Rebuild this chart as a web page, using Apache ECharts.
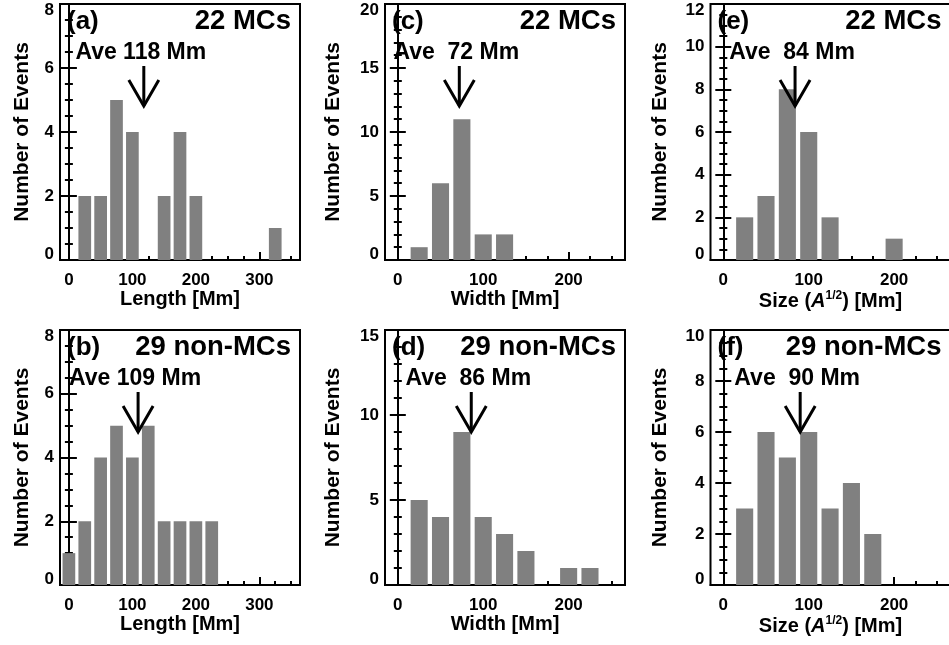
<!DOCTYPE html>
<html><head><meta charset="utf-8">
<script src="https://cdn.jsdelivr.net/npm/echarts@6/dist/echarts.min.js"></script>
<style>html,body{margin:0;padding:0;background:#fff}#c{width:949px;height:645px}</style>
</head><body><div id="c"></div>
<script>
// ---- data: histogram bin centres [Mm] and event counts ----
const lengthMC_bins   = [25, 50, 75, 100, 150, 175, 200, 325];
const lengthMC_counts = [2, 2, 5, 4, 2, 4, 2, 1];
const lengthNon_bins   = [0, 25, 50, 75, 100, 125, 150, 175, 200, 225];
const lengthNon_counts = [1, 2, 4, 5, 4, 5, 2, 2, 2, 2];
const widthMC_bins   = [25, 50, 75, 100, 125];
const widthMC_counts = [1, 6, 11, 2, 2];
const widthNon_bins   = [25, 50, 75, 100, 125, 150, 200, 225];
const widthNon_counts = [5, 4, 9, 4, 3, 2, 1, 1];
const sizeMC_bins   = [25, 50, 75, 100, 125, 200];
const sizeMC_counts = [2, 3, 8, 6, 2, 1];
const sizeNon_bins   = [25, 50, 75, 100, 125, 150, 175];
const sizeNon_counts = [3, 6, 5, 6, 3, 4, 2];

const panelLetters = ['(a)', '(b)', '(c)', '(d)', '(e)', '(f)'];
const sampleLabels = ['22 MCs', '29 non-MCs', '22 MCs', '29 non-MCs', '22 MCs', '29 non-MCs'];
const averages     = [118, 109, 72, 86, 84, 90];
const yMaxes       = [8, 8, 20, 15, 12, 10];
const ySteps       = [2, 2, 5, 5, 2, 2];

// tick labels
const xMajorLength = [0, 100, 200, 300];
const xMinorLength = [25, 50, 75, 125, 150, 175, 225, 250, 275, 325, 350];
const xMajorWS = [0, 100, 200];
const xMinorWS = [25, 50, 75, 125, 150, 175, 225, 250];
const xTitles = ['Length [Mm]', 'Width [Mm]', '{n|Size (}{i|A}{s|1/2}{n|) [Mm]}'];
const yTitle = 'Number of Events';

const binsList   = [lengthMC_bins, lengthNon_bins, widthMC_bins, widthNon_bins, sizeMC_bins, sizeNon_bins];
const countsList = [lengthMC_counts, lengthNon_counts, widthMC_counts, widthNon_counts, sizeMC_counts, sizeNon_counts];

// ---- layout ----
const FONT = '"Liberation Sans", Arial, Helvetica, sans-serif';
const colLeft = [60, 385, 710.5];
const colWidth = 240;
const rowTop = [4, 330];
const rowHeight = [256, 255];
const xRange = [[-14, 364], [-15, 266], [-15, 266]];
const yNameGap = [27, 41, 40];

const black = '#000';
const lineSt = { color: black, width: 2 };

const grids = [], xAxes = [], yAxes = [], series = [];

for (let i = 0; i < 6; i++) {
  const col = Math.floor(i / 2), row = i % 2;
  grids.push({
    left: colLeft[col], top: rowTop[row], width: colWidth, height: rowHeight[row],
    show: true, borderColor: black, borderWidth: 2, backgroundColor: 'transparent',
    containLabel: false, outerBoundsMode: 'none'
  });
  const major = col === 0 ? xMajorLength : xMajorWS;
  const minor = col === 0 ? xMinorLength : xMinorWS;
  const ymax = yMaxes[i], ystep = ySteps[i];
  const nameStyle = {
    fontSize: 20, fontWeight: 'bold', fontFamily: FONT, color: black,
    rich: {
      n: { fontSize: 20, fontWeight: 'bold', fontFamily: FONT, color: black, lineHeight: 24 },
      i: { fontSize: 20, fontWeight: 'bold', fontStyle: 'italic', fontFamily: FONT, color: black, lineHeight: 24 },
      s: { fontSize: 12, fontWeight: 'bold', fontFamily: FONT, color: black, verticalAlign: 'top', lineHeight: 12 }
    }
  };
  // main bottom x axis (major ticks + labels)
  xAxes.push({
    gridIndex: i, type: 'value', min: xRange[col][0], max: xRange[col][1], position: 'bottom',
    axisLine: { show: true, onZero: false, lineStyle: lineSt },
    axisTick: { show: true, inside: true, length: 8, lineStyle: lineSt, customValues: major },
    axisLabel: { show: true, customValues: major, margin: 12, color: black, fontSize: 17, fontWeight: 'bold', fontFamily: FONT },
    splitLine: { show: false },
    name: xTitles[col], nameLocation: 'middle', nameGap: 29, nameTextStyle: nameStyle
  });
  // helper x axis placed on y=0 for the minor ticks
  xAxes.push({
    gridIndex: i, type: 'value', min: xRange[col][0], max: xRange[col][1], position: 'top',
    axisLine: { show: false, onZero: true },
    axisTick: { show: true, inside: false, length: 4, lineStyle: lineSt, customValues: minor },
    axisLabel: { show: false }, splitLine: { show: false }
  });
  const lblStyle = { fontSize: 17, fontWeight: 'bold', fontFamily: FONT, color: black };
  const yCommon = {
    gridIndex: i, type: 'value', min: 0, max: ymax, interval: ystep,
    axisLine: { show: true, lineStyle: lineSt },
    axisTick: { show: true, inside: true, length: 8, lineStyle: lineSt },
    minorTick: { show: true, splitNumber: ystep === 5 ? 5 : 4, length: 4, lineStyle: lineSt },
    splitLine: { show: false }, minorSplitLine: { show: false }
  };
  yAxes.push(Object.assign({}, yCommon, {
    position: 'left',
    axisLabel: {
      show: true, margin: 6, ...lblStyle,
      formatter: v => v === 0 ? '{lo|0}' : (v === ymax ? '{hi|' + v + '}' : String(v)),
      rich: { lo: Object.assign({ padding: [0, 0, 12, 0] }, lblStyle), hi: Object.assign({ padding: [12, 0, 0, 0] }, lblStyle) }
    },
    name: yTitle, nameLocation: 'middle', nameGap: yNameGap[col],
    nameTextStyle: { fontSize: 21, fontWeight: 'bold', fontFamily: FONT, color: black }
  }));
  yAxes.push(Object.assign({}, yCommon, { position: 'right', axisLabel: { show: false } }));

  series.push({
    type: 'bar', xAxisIndex: 2 * i, yAxisIndex: 2 * i, z: 2,
    data: binsList[i].map((b, k) => [b, countsList[i][k]]),
    barWidth: '80%', itemStyle: { color: '#808080' }, silent: true
  });

  const letter = panelLetters[i], sample = sampleLabels[i];
  series.push({
    type: 'custom', xAxisIndex: 2 * i, yAxisIndex: 2 * i, clip: false, silent: true, z: 10,
    data: [[averages[i], 0]],
    renderItem: function (params, api) {
      const cs = params.coordSys;
      const ave = api.value(0);
      const px = api.coord([ave, 0])[0];
      const top = cs.y;
      const txt = (s, sz) => ({ text: s, fontSize: sz, fontWeight: 'bold', fontFamily: FONT, fill: black });
      return {
        type: 'group',
        children: [
          { type: 'line', z2: 10, shape: { x1: px, y1: top + 62, x2: px, y2: top + 102 }, style: { stroke: black, lineWidth: 3 } },
          { type: 'polyline', z2: 10, shape: { points: [[px - 15, top + 76], [px, top + 102], [px + 15, top + 76]] }, style: { stroke: black, lineWidth: 3, fill: null } },
          { type: 'text', x: px - 3, y: top + 49, style: Object.assign(txt('Ave ' + String(ave).padStart(3, ' ') + ' Mm', 23), { align: 'center', verticalAlign: 'middle' }) },
          { type: 'text', x: cs.x + 7, y: top + 18, style: Object.assign(txt(letter, 26), { align: 'left', verticalAlign: 'middle' }) },
          { type: 'text', x: cs.x + cs.width - 9, y: top + 17, style: Object.assign(txt(sample, 27.5), { align: 'right', verticalAlign: 'middle' }) }
        ]
      };
    }
  });
}

const chart = echarts.init(document.getElementById('c'), null, { renderer: 'canvas' });
chart.setOption({
  animation: false,
  backgroundColor: '#fff',
  grid: grids, xAxis: xAxes, yAxis: yAxes, series: series
});
</script>
</body></html>
